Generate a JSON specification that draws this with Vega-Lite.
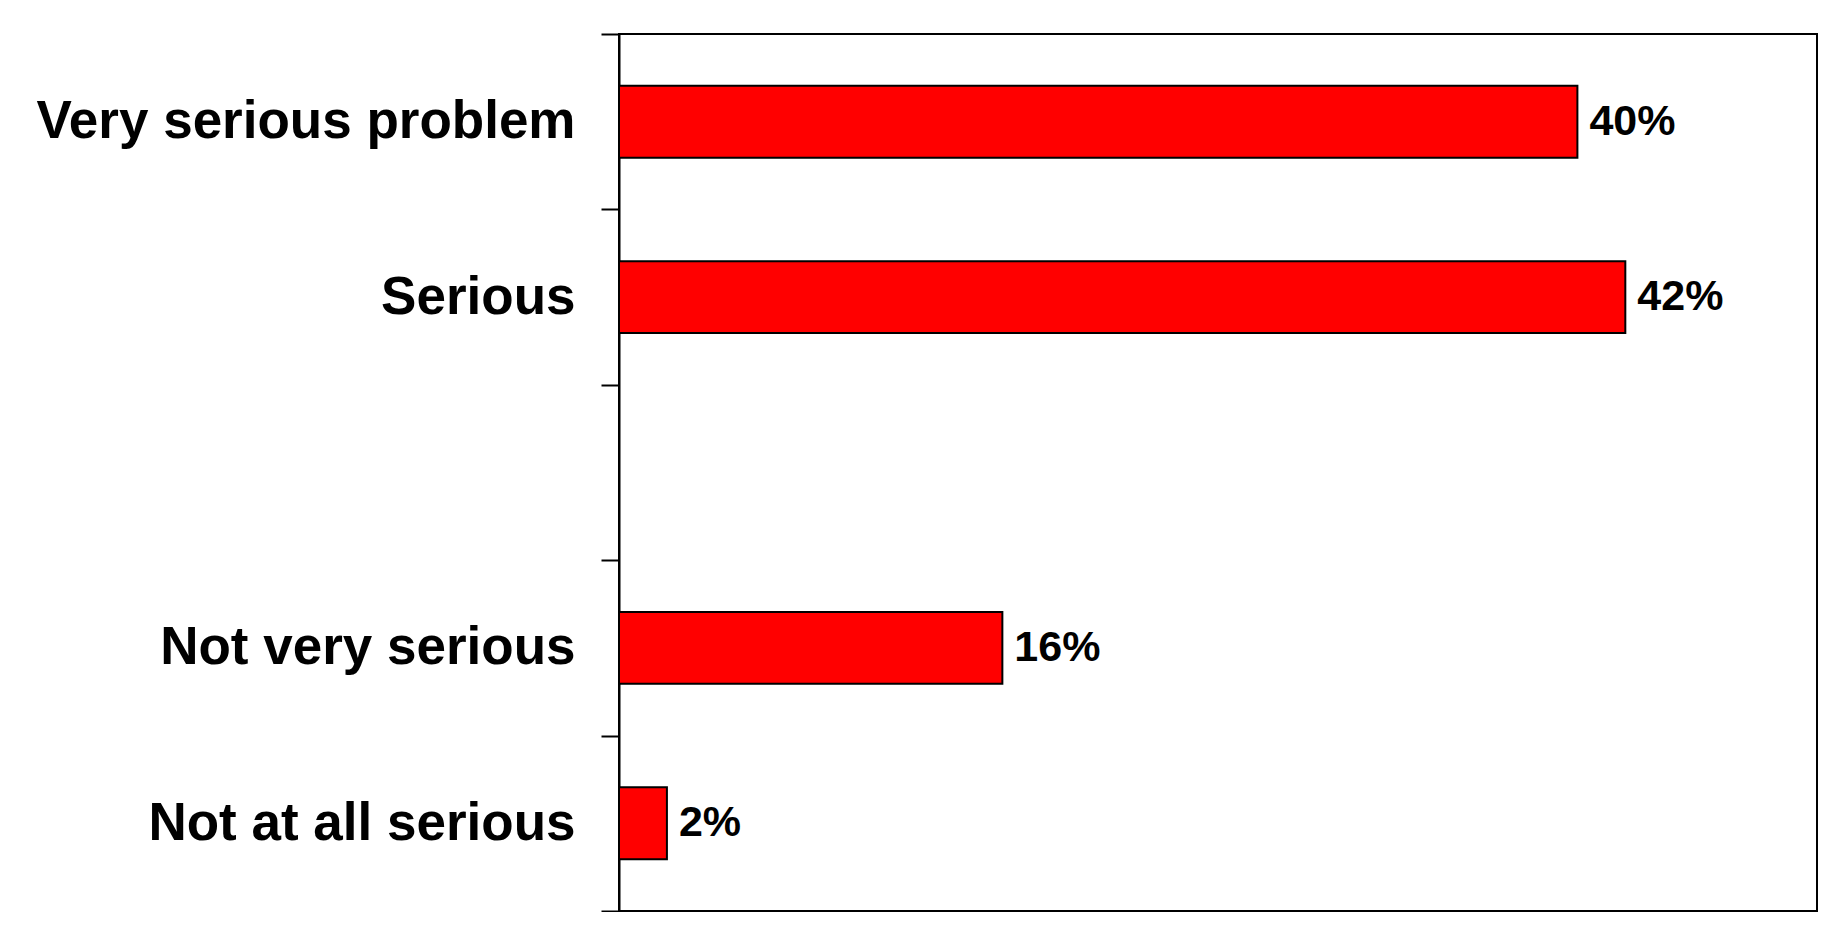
{
  "$schema": "https://vega.github.io/schema/vega-lite/v6.json",
  "width": 1198,
  "height": 877,
  "padding": {"left": 0, "top": 8, "right": 15, "bottom": 0},
  "background": "white",
  "data": {
    "values": [
      {"category": "Very serious problem", "pct": 40, "label": "40%"},
      {"category": "Serious", "pct": 42, "label": "42%"},
      {"category": "Not very serious", "pct": 16, "label": "16%"},
      {"category": "Not at all serious", "pct": 2, "label": "2%"}
    ]
  },
  "encoding": {
    "y": {
      "field": "category",
      "type": "nominal",
      "scale": {
        "domain": ["Very serious problem", "Serious", "(blank)", "Not very serious", "Not at all serious"],
        "paddingInner": 0,
        "paddingOuter": 0
      },
      "axis": {
        "title": null,
        "tickBand": "extent",
        "tickSize": 18,
        "tickWidth": 2,
        "tickColor": "black",
        "domainColor": "black",
        "domainWidth": 2,
        "labelPadding": 26,
        "labelFont": "Liberation Sans",
        "labelFontWeight": "bold",
        "labelFontSize": 53,
        "labelColor": "black",
        "labelLimit": 800,
        "labelExpr": "datum.value == '(blank)' ? '' : datum.value",
        "minExtent": 619,
        "maxExtent": 619
      }
    },
    "x": {
      "field": "pct",
      "type": "quantitative",
      "scale": {"domain": [0, 50], "nice": false},
      "axis": null
    }
  },
  "layer": [
    {
      "mark": {"type": "bar", "color": "#ff0000", "stroke": "black", "strokeWidth": 2, "height": {"band": 0.41}}
    },
    {
      "mark": {
        "type": "text",
        "align": "left",
        "baseline": "middle",
        "dx": 12,
        "font": "Liberation Sans",
        "fontWeight": "bold",
        "fontSize": 43,
        "color": "black"
      },
      "encoding": {"text": {"field": "label"}}
    }
  ],
  "config": {
    "view": {"stroke": "black", "strokeWidth": 2}
  }
}
